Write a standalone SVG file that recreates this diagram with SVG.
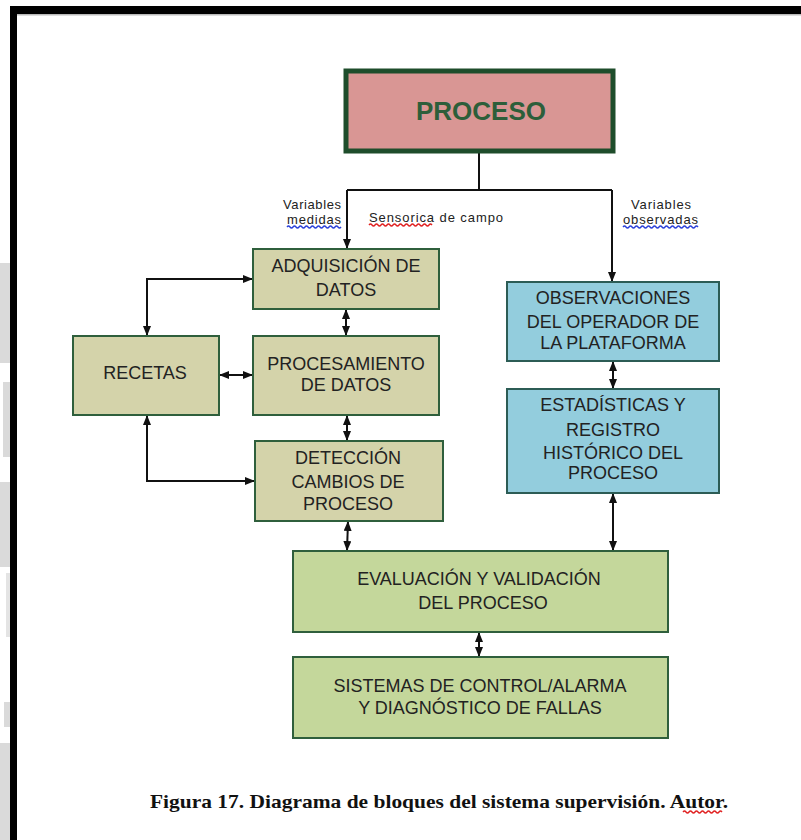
<svg xmlns="http://www.w3.org/2000/svg" width="801" height="840" viewBox="0 0 801 840">
<defs>
<style>
.box{stroke:#2f5f3c;stroke-width:2}
.k{fill:#d4d3aa}
.b{fill:#93cddd;stroke:#2c5c55}
.g{fill:#c4d79b}
.t{font-family:"Liberation Sans",Arial,sans-serif;font-size:18px;fill:#222;text-anchor:middle}
.s{font-family:"Liberation Sans",Arial,sans-serif;font-size:13px;fill:#222}
.c{fill:none;stroke:#111;stroke-width:2}
.a{marker-end:url(#ah)}
.d{marker-start:url(#ah);marker-end:url(#ah)}
.wb{fill:none;stroke:#2a3fd8;stroke-width:1.3}
.wr{fill:none;stroke:#e02020;stroke-width:1.3}
</style>
<marker id="ah" viewBox="0 0 10 8" refX="10" refY="4" markerWidth="10" markerHeight="8" markerUnits="userSpaceOnUse" orient="auto-start-reverse">
<path d="M0,0 L10,4 L0,8 z" fill="#111"/>
</marker>
</defs>
<rect width="801" height="840" fill="#fff"/>
<g id="scan-edge" fill="#dadada">
<rect x="0" y="263" width="10" height="100"/>
<rect x="3" y="382" width="7" height="75"/>
<rect x="0" y="482" width="10" height="85"/>
<rect x="6" y="573" width="4" height="64" fill="#e4e4e4"/>
<rect x="4" y="702" width="6" height="25"/>
<rect x="0" y="743" width="10" height="97"/>
</g>
<g id="frame">
<rect x="10" y="6" width="791" height="8" fill="#000"/>
<rect x="17" y="14" width="784" height="1.5" fill="#bbb"/>
<rect x="10" y="6" width="7" height="834" fill="#000"/>
</g>
<g id="connectors">
<path class="c" d="M479,153 V190"/>
<path class="c" d="M347,190 H612"/>
<path class="c a" d="M347,190 V249"/>
<path class="c a" d="M612,190 V282"/>
<path class="c d" d="M253,279 H147 V336"/>
<path class="c d" d="M147,415 V481 H255"/>
<path class="c d" d="M219,375 H253"/>
<path class="c d" d="M346,309 V336"/>
<path class="c d" d="M347,415 V441"/>
<path class="c d" d="M348,521 L347,551"/>
<path class="c d" d="M613,361 V389"/>
<path class="c d" d="M613,493 V551"/>
<path class="c d" d="M479,632 V657"/>
</g>
<g id="labels">
<text class="s" x="283" y="209" textLength="58">Variables</text>
<text class="s" x="287" y="224" textLength="54">medidas</text>
<path class="wb" d="M287,227 q1.5,-2 3,0 t3,0 t3,0 t3,0 t3,0 t3,0 t3,0 t3,0 t3,0 t3,0 t3,0 t3,0 t3,0 t3,0 t3,0 t3,0 t3,0 t3,0"/>
<text class="s" x="369" y="222" textLength="134">Sensorica de campo</text>
<path class="wr" d="M369,225 q1.5,-2 3,0 t3,0 t3,0 t3,0 t3,0 t3,0 t3,0 t3,0 t3,0 t3,0 t3,0 t3,0 t3,0 t3,0 t3,0 t3,0 t3,0 t3,0 t3,0 t3,0 t3,0"/>
<text class="s" x="631" y="209" textLength="60">Variables</text>
<text class="s" x="623" y="224" textLength="75">observadas</text>
<path class="wb" d="M623,227 q1.5,-2 3,0 t3,0 t3,0 t3,0 t3,0 t3,0 t3,0 t3,0 t3,0 t3,0 t3,0 t3,0 t3,0 t3,0 t3,0 t3,0 t3,0 t3,0 t3,0 t3,0 t3,0 t3,0 t3,0 t3,0 t3,0"/>
</g>
<g id="proceso">
<rect x="346" y="71" width="267" height="80" fill="#d99694" stroke="#1e4d2b" stroke-width="5"/>
<text x="481" y="120" font-family="'Liberation Sans',Arial,sans-serif" font-size="26" font-weight="bold" fill="#2d5e3a" text-anchor="middle">PROCESO</text>
</g>
<g id="adquisicion">
<rect class="box k" x="253" y="249" width="186" height="60"/>
<text class="t" x="346" y="272">ADQUISICIÓN DE</text>
<text class="t" x="346" y="296">DATOS</text>
</g>
<g id="procesamiento">
<rect class="box k" x="253" y="336" width="186" height="79"/>
<text class="t" x="346" y="370">PROCESAMIENTO</text>
<text class="t" x="346" y="391">DE DATOS</text>
</g>
<g id="recetas">
<rect class="box k" x="73" y="336" width="146" height="79"/>
<text class="t" x="145" y="379">RECETAS</text>
</g>
<g id="deteccion">
<rect class="box k" x="255" y="441" width="188" height="80"/>
<text class="t" x="348" y="464">DETECCIÓN</text>
<text class="t" x="348" y="488">CAMBIOS DE</text>
<text class="t" x="348" y="510">PROCESO</text>
</g>
<g id="observaciones">
<rect class="box b" x="507" y="282" width="212" height="79"/>
<text class="t" x="613" y="304">OBSERVACIONES</text>
<text class="t" x="613" y="328">DEL OPERADOR DE</text>
<text class="t" x="613" y="349">LA PLATAFORMA</text>
</g>
<g id="estadisticas">
<rect class="box b" x="507" y="389" width="212" height="104"/>
<text class="t" x="613" y="411">ESTADÍSTICAS Y</text>
<text class="t" x="613" y="436">REGISTRO</text>
<text class="t" x="613" y="459">HISTÓRICO DEL</text>
<text class="t" x="613" y="479">PROCESO</text>
</g>
<g id="evaluacion">
<rect class="box g" x="293" y="551" width="375" height="81"/>
<text class="t" x="479" y="585">EVALUACIÓN  Y VALIDACIÓN</text>
<text class="t" x="483" y="609">DEL PROCESO</text>
</g>
<g id="sistemas">
<rect class="box g" x="293" y="657" width="375" height="81"/>
<text class="t" x="480" y="692">SISTEMAS DE CONTROL/ALARMA</text>
<text class="t" x="480" y="714">Y DIAGNÓSTICO DE FALLAS</text>
</g>
<g id="caption">
<text x="150" y="808" font-family="'Liberation Serif','Times New Roman',serif" font-size="19" font-weight="bold" fill="#111" textLength="578" lengthAdjust="spacingAndGlyphs">Figura 17. Diagrama de bloques del sistema supervisión. Autor.</text>
<path class="wr" d="M683,812 q1.5,-2 3,0 t3,0 t3,0 t3,0 t3,0 t3,0 t3,0 t3,0 t3,0 t3,0 t3,0 t3,0 t3,0"/>
</g>
</svg>
